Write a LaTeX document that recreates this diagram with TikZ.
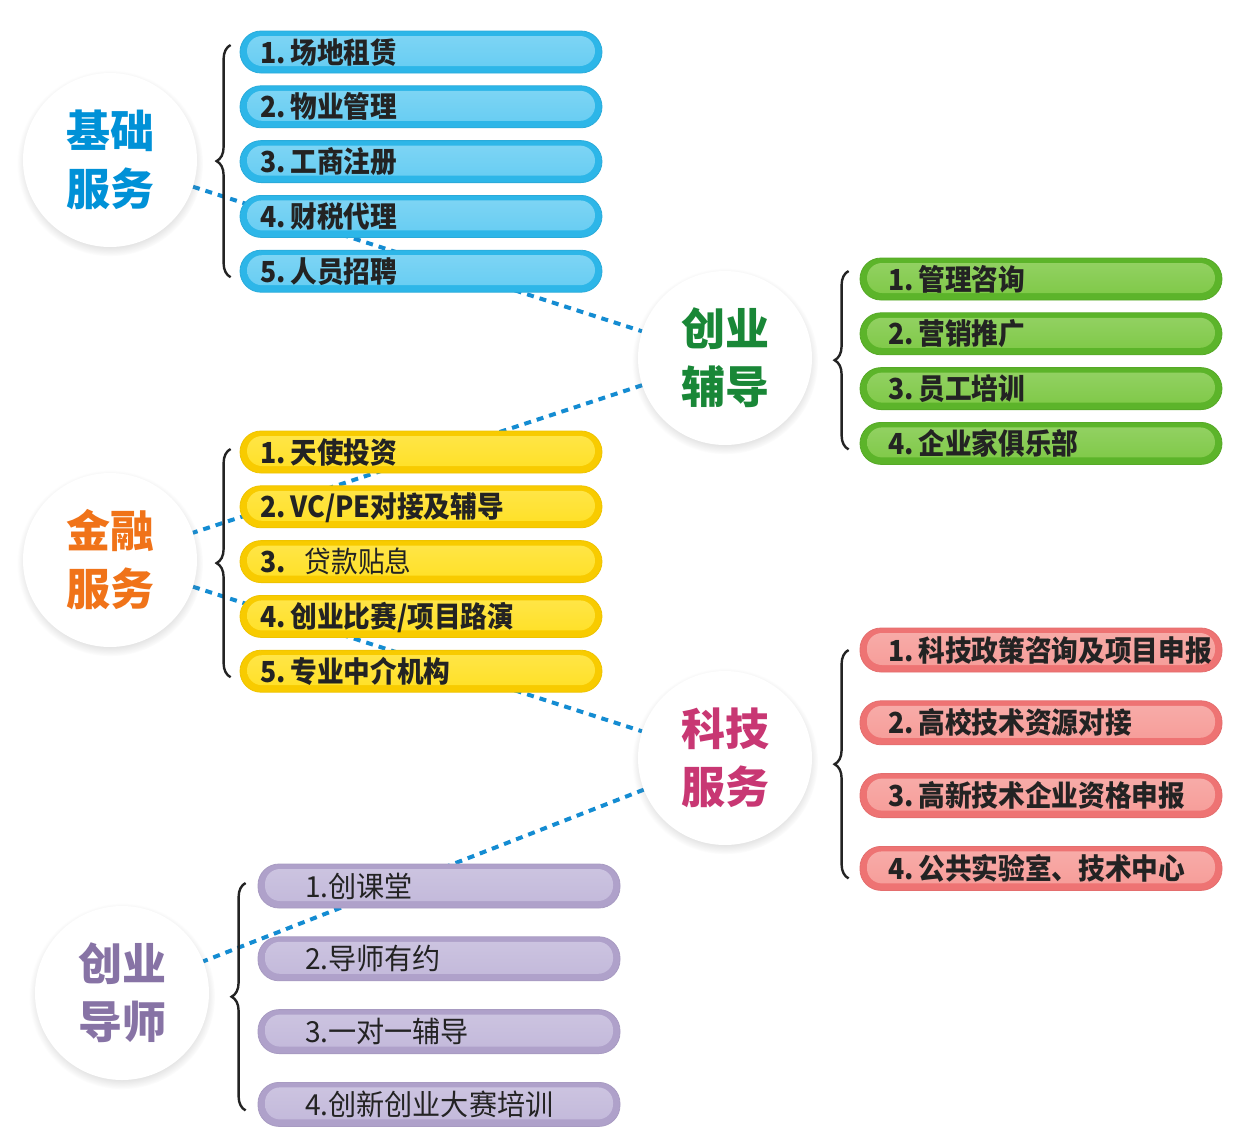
\documentclass[tikz,border=0pt]{standalone}
\usepackage{fontspec}
\setmainfont{Noto Sans CJK SC}
\newfontfamily\barfont[FakeStretch=0.92]{Noto Sans CJK SC}
\newfontfamily\mentorfont[FakeStretch=0.97]{Noto Sans CJK SC}
\usetikzlibrary{positioning,shadows,decorations.pathreplacing}

\definecolor{jcblue}{RGB}{0,145,215}
\definecolor{fdgreen}{RGB}{25,135,55}
\definecolor{jrorange}{RGB}{240,115,25}
\definecolor{kjpink}{RGB}{200,55,115}
\definecolor{dspurple}{RGB}{135,115,165}
\definecolor{barblue}{RGB}{45,182,232}
\definecolor{hlblue}{RGB}{100,204,242}
\definecolor{bargreen}{RGB}{92,180,42}
\definecolor{hlgreen}{RGB}{125,200,68}
\definecolor{baryellow}{RGB}{248,203,0}
\definecolor{hlyellow}{RGB}{255,224,35}
\definecolor{barpink}{RGB}{238,115,115}
\definecolor{hlpink}{RGB}{246,155,151}
\definecolor{barpurple}{RGB}{175,161,202}
\definecolor{hlpurple}{RGB}{194,184,218}
\definecolor{linkblue}{RGB}{20,140,210}
\definecolor{bartext}{RGB}{35,35,35}

\pgfdeclarelayer{background}
\pgfsetlayers{background,main}

\begin{document}
\begin{tikzpicture}[
        x=1pt, y=-1pt,
        hub/.style={
            circle,
            fill=white,
            minimum size=174pt,
            inner sep=0pt,
            align=center,
            font=\fontsize{44pt}{58pt}\selectfont\bfseries,
            circular drop shadow={shadow xshift=0pt, shadow yshift=-3pt, shadow scale=1.07, opacity=.3}
        },
        shine/.style={
            path picture={
                \shade[top color=#1!82!white, bottom color=#1, rounded corners=15pt]
                    ([xshift=7pt,yshift=-5pt]path picture bounding box.north west) rectangle
                    ([xshift=-7pt,yshift=7pt]path picture bounding box.south east);
            }
        },
        bar/.style={
            rectangle,
            rounded corners=21pt,
            minimum height=42pt,
            inner xsep=4pt,
            inner ysep=0pt,
            text width=354pt,
            align=left,
            text height=25pt,
            text depth=3pt,
            line width=0.8pt,
            text=bartext,
            font=\fontsize{29pt}{34pt}\barfont\bfseries
        },
        bluebar/.style={bar, fill=barblue, draw=barblue!94!black, shine=hlblue,
            execute at begin node=\hspace*{16pt}},
        greenbar/.style={bar, fill=bargreen, draw=bargreen!94!black, shine=hlgreen,
            execute at begin node=\hspace*{24pt}},
        yellowbar/.style={bar, fill=baryellow, draw=baryellow!96!black, shine=hlyellow,
            execute at begin node=\hspace*{16pt}},
        pinkbar/.style={bar, fill=barpink, draw=barpink!96!black, shine=hlpink,
            minimum height=44pt, execute at begin node=\hspace*{24pt}},
        purplebar/.style={bar, fill=barpurple, draw=barpurple!96!black, shine=hlpurple,
            minimum height=44pt, font=\fontsize{29pt}{34pt}\mentorfont,
            execute at begin node=\hspace*{43pt}},
        brace/.style={decorate, decoration={brace, amplitude=14pt}, line width=2.4pt, draw=bartext},
        link/.style={linkblue, line width=4pt, dash pattern=on 7pt off 6pt}
    ]
        \useasboundingbox (0,0) rectangle (1254,1144);

        % hubs
        \node[hub, text=jcblue] (jichu) at (110,160) {基础\\服务};
        \node[hub, text=fdgreen] (fudao) at (725,358) {创业\\辅导};
        \node[hub, text=jrorange] (jinrong) at (110,560) {金融\\服务};
        \node[hub, text=kjpink] (keji) at (725,758) {科技\\服务};
        \node[hub, text=dspurple] (daoshi) at (122,993) {创业\\导师};

        % 基础服务
        \node[bluebar] (jc1) at (421,52) {1.\,场地租赁};
        \node[bluebar, below=12pt of jc1] (jc2) {2.\,物业管理};
        \node[bluebar, below=12pt of jc2] (jc3) {3.\,工商注册};
        \node[bluebar, below=12pt of jc3] (jc4) {4.\,财税代理};
        \node[bluebar, below=12pt of jc4] (jc5) {5.\,人员招聘};

        % 创业辅导
        \node[greenbar] (fd1) at (1041,279) {1.\,管理咨询};
        \node[greenbar, below=12pt of fd1] (fd2) {2.\,营销推广};
        \node[greenbar, below=12pt of fd2] (fd3) {3.\,员工培训};
        \node[greenbar, below=12pt of fd3] (fd4) {4.\,企业家俱乐部};

        % 金融服务
        \node[yellowbar] (jr1) at (421,452) {1.\,天使投资};
        \node[yellowbar, below=12pt of jr1] (jr2) {2.\,VC/PE对接及辅导};
        \node[yellowbar, below=12pt of jr2] (jr3) {3.\ \ \mdseries 贷款贴息};
        \node[yellowbar, below=12pt of jr3] (jr4) {4.\,创业比赛/项目路演};
        \node[yellowbar, below=12pt of jr4] (jr5) {5.\,专业中介机构};

        % 科技服务
        \node[pinkbar] (kj1) at (1041,650) {1.\,科技政策咨询及项目申报};
        \node[pinkbar, below=28pt of kj1] (kj2) {2.\,高校技术资源对接};
        \node[pinkbar, below=28pt of kj2] (kj3) {3.\,高新技术企业资格申报};
        \node[pinkbar, below=28pt of kj3] (kj4) {4.\,公共实验室、技术中心};

        % 创业导师
        \node[purplebar] (ds1) at (439,886) {1.创课堂};
        \node[purplebar, below=28pt of ds1] (ds2) {2.导师有约};
        \node[purplebar, below=28pt of ds2] (ds3) {3.一对一辅导};
        \node[purplebar, below=28pt of ds3] (ds4) {4.创新创业大赛培训};

        % braces
        \draw[brace] ([xshift=-9pt,yshift=-6pt]jc5.west) -- ([xshift=-9pt,yshift=7pt]jc1.west);
        \draw[brace] ([xshift=-11pt,yshift=-6pt]fd4.west) -- ([xshift=-11pt,yshift=8pt]fd1.west);
        \draw[brace] ([xshift=-9pt,yshift=-6pt]jr5.west) -- ([xshift=-9pt,yshift=3pt]jr1.west);
        \draw[brace] ([xshift=-11pt,yshift=-10pt]kj4.west) -- ([xshift=-11pt,yshift=0pt]kj1.west);
        \draw[brace] ([xshift=-12pt,yshift=-6pt]ds4.west) -- ([xshift=-12pt,yshift=3pt]ds1.west);

        % dotted links behind everything
        \begin{pgfonlayer}{background}
            \draw[link] (jichu) -- (fudao);
            \draw[link] (fudao) -- (jinrong);
            \draw[link] (jinrong) -- (keji);
            \draw[link] (keji) -- (daoshi);
        \end{pgfonlayer}
    \end{tikzpicture}
\end{document}
